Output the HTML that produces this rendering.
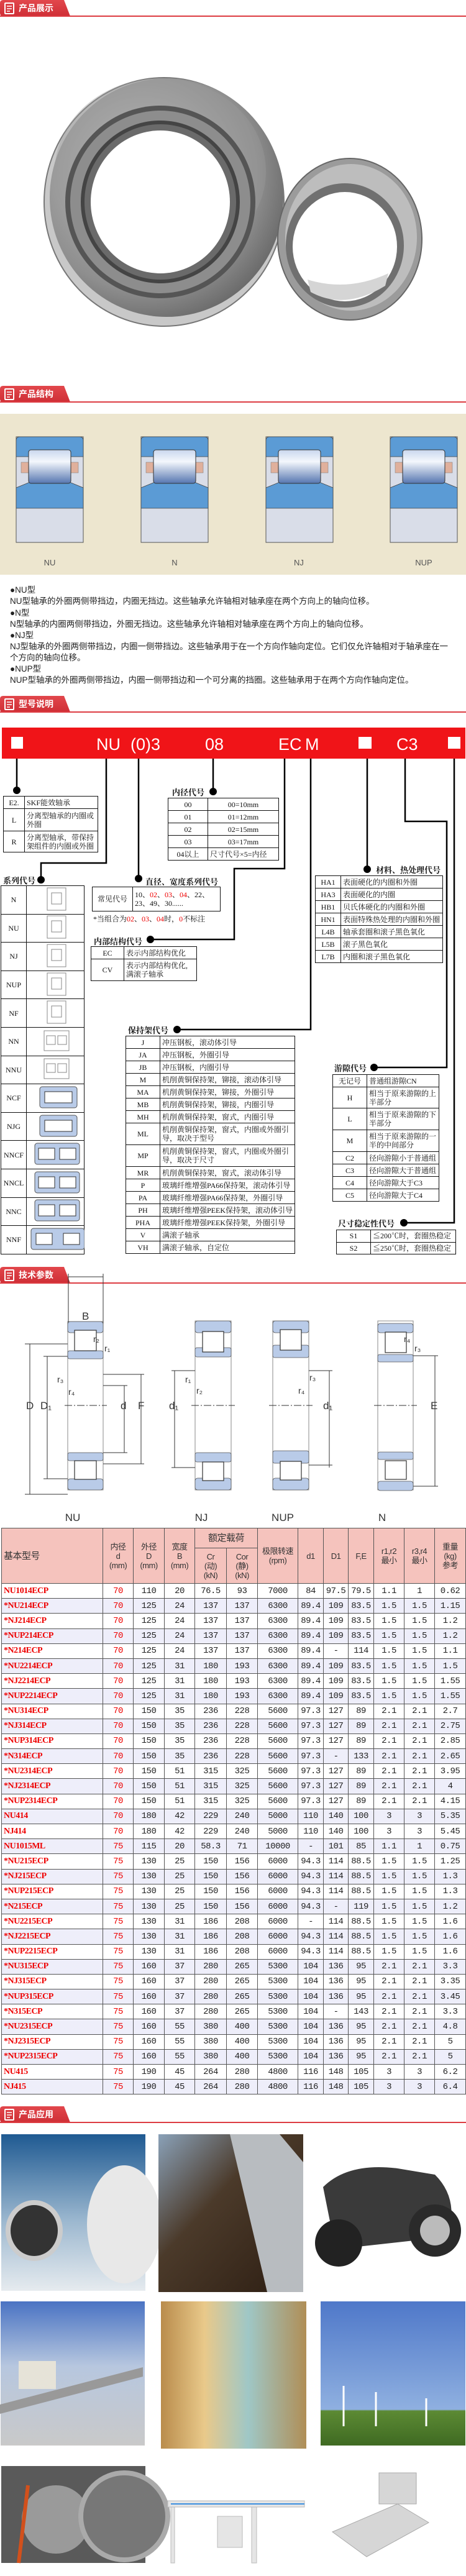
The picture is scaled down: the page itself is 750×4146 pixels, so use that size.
<!DOCTYPE html>
<html><head><meta charset="utf-8">
<style>
*{margin:0;padding:0;box-sizing:border-box}
body{width:750px;height:4146px;position:relative;background:#fff;overflow:hidden;font-family:"Liberation Serif","Noto Serif CJK SC",serif}
.a{position:absolute}
table{border-collapse:collapse;position:absolute;table-layout:fixed}
.ct td{border:1.5px solid #111;font-size:12px;color:#111;padding:0 3px;line-height:14px}
.ct td:first-child{text-align:center}
.lbl{position:absolute;font-weight:bold;font-size:13px;font-family:"Liberation Serif","Noto Serif CJK SC",serif;color:#111}
.p{position:absolute;left:16px;font-size:13.5px;color:#222;font-family:"Liberation Sans","Noto Sans CJK SC",sans-serif;white-space:nowrap}
.mt{left:2px;top:2459px;width:747px}
.mt td{border:1px solid #555;text-align:center;font-family:"Liberation Mono","Noto Sans CJK SC",monospace;font-size:14px;height:24.2px;color:#222;padding:0;letter-spacing:-0.5px}
.mt tr.h td{background:#f5c3bd;font-family:"Liberation Sans","Noto Sans CJK SC",sans-serif;font-size:13px;line-height:15px;color:#333}
.mt td.m{color:#e00;text-align:left;padding-left:3px;font-weight:bold;font-family:"Liberation Serif",serif;font-size:14px}
.mt td.r{color:#e00}
.mt tr.s td{background:#eeeefa}
</style></head><body>

<svg class="a" style="left:0;top:0" width="750" height="4146" xmlns="http://www.w3.org/2000/svg">
<defs>
<linearGradient id="tab" x1="0" y1="0" x2="0" y2="1"><stop offset="0" stop-color="#e2474c"/><stop offset="1" stop-color="#cf2f36"/></linearGradient>
<linearGradient id="rol" x1="0" y1="0" x2="0" y2="1"><stop offset="0" stop-color="#c9d7ee"/><stop offset=".35" stop-color="#f4f7fc"/><stop offset="1" stop-color="#5676b0"/></linearGradient>
<radialGradient id="steel" cx=".4" cy=".4" r=".7"><stop offset="0" stop-color="#c8c8c8"/><stop offset=".7" stop-color="#8e8e8e"/><stop offset="1" stop-color="#5d5d5d"/></radialGradient>
<g id="hdr">
<path d="M0 5 Q0 0 5 0 H103 L113 26 H5 Q0 26 0 21 Z" fill="url(#tab)"/>
<rect x="0" y="25" width="750" height="2" fill="#dd3c42"/>
<rect x="8" y="5" width="14" height="17" rx="1" fill="none" stroke="#fff" stroke-width="2"/>
<path d="M11 10h8M11 14h8M11 18h5" stroke="#fff" stroke-width="1.6"/>
</g>
<g id="sb">
<rect x="0" y="0" width="108" height="170" fill="#d9dde8" stroke="#555" stroke-width="1"/>
<path d="M0 32 V6 Q0 0 6 0 H102 Q108 0 108 6 V32 Z" fill="#5b9bd5" stroke="#444" stroke-width=".8"/>
<rect x="8" y="41" width="12" height="17" fill="#e0b09c" stroke="#777" stroke-width=".5"/>
<rect x="88" y="41" width="12" height="17" fill="#e0b09c" stroke="#777" stroke-width=".5"/>
<path d="M0 115 V82 L22 73 H86 L108 82 V115 Z" fill="#5b9bd5" stroke="#444" stroke-width=".8"/>
<rect x="20" y="21" width="68" height="54" rx="4" fill="url(#rol)" stroke="#333" stroke-width="1"/>
</g>
<g id="dot"><circle r="6" fill="#000"/></g>
</defs>

<!-- headers -->
<use href="#hdr" y="0"/>
<text x="30" y="18" fill="#fff" font-size="14" font-weight="bold" font-family="Noto Sans CJK SC,sans-serif">产品展示</text>
<use href="#hdr" y="621"/>
<text x="30" y="639" fill="#fff" font-size="14" font-weight="bold" font-family="Noto Sans CJK SC,sans-serif">产品结构</text>
<use href="#hdr" y="1120"/>
<text x="30" y="1138" fill="#fff" font-size="14" font-weight="bold" font-family="Noto Sans CJK SC,sans-serif">型号说明</text>
<use href="#hdr" y="2039"/>
<text x="30" y="2057" fill="#fff" font-size="14" font-weight="bold" font-family="Noto Sans CJK SC,sans-serif">技术参数</text>
<use href="#hdr" y="3390"/>
<text x="30" y="3408" fill="#fff" font-size="14" font-weight="bold" font-family="Noto Sans CJK SC,sans-serif">产品应用</text>

<!-- product photo -->
<ellipse cx="264" cy="325" rx="193" ry="200" fill="#c8c8c8" stroke="#777" stroke-width="2"/>
<ellipse cx="268" cy="318" rx="188" ry="192" fill="url(#steel)"/>
<ellipse cx="258" cy="276" rx="170" ry="150" fill="#9a9a9a" opacity=".4"/>
<ellipse cx="258" cy="325" rx="153" ry="155" fill="#555"/>
<ellipse cx="258" cy="325" rx="145" ry="147" fill="#8d8d8d"/>
<ellipse cx="258" cy="325" rx="125" ry="128" fill="#6a6a6a" stroke="#444" stroke-width="6"/>
<ellipse cx="258" cy="325" rx="112" ry="115" fill="#fff"/>
<ellipse cx="563" cy="385" rx="116" ry="130" fill="#9b9b9b" stroke="#666" stroke-width="2"/>
<ellipse cx="565" cy="382" rx="106" ry="118" fill="#bdbdbd"/>
<ellipse cx="555" cy="395" rx="95" ry="100" fill="#707070"/>
<ellipse cx="555" cy="397" rx="84" ry="88" fill="#fff"/>
<path d="M500 470 Q555 500 620 460 L625 440 Q560 470 495 450Z" fill="#d5d5d5"/>

<!-- structure panel -->
<rect x="0" y="666" width="750" height="259" fill="#ede6cf"/>
<use href="#sb" x="26" y="703"/>
<use href="#sb" x="227" y="703"/>
<use href="#sb" x="428" y="703"/>
<use href="#sb" x="628" y="703"/>
<g font-family="Liberation Sans,sans-serif" font-size="13" fill="#555" text-anchor="middle">
<text x="80" y="910">NU</text><text x="281" y="910">N</text><text x="481" y="910">NJ</text><text x="682" y="910">NUP</text>
</g>

<!-- code bar -->
<rect x="3" y="1171" width="746" height="50" fill="#f01418"/>
<rect x="18" y="1186" width="19" height="19" fill="#fff"/>
<rect x="577" y="1186" width="21" height="19" fill="#fff"/>
<rect x="721" y="1186" width="20" height="19" fill="#fff"/>
<g fill="#fff" font-family="Liberation Sans,sans-serif" font-size="27">
<text x="155" y="1207">NU</text><text x="210" y="1207">(0)3</text><text x="330" y="1207">08</text>
<text x="448" y="1207">EC</text><text x="491" y="1207">M</text><text x="638" y="1207">C3</text>
</g>
<g stroke="#000" stroke-width="2.5" fill="none">
<path d="M27 1221V1272"/><path d="M171 1221V1389H66V1416"/><path d="M223 1221V1414"/>
<path d="M343 1221V1274"/><path d="M458 1221V1398H377V1512H242"/><path d="M500 1221V1657H285"/>
<path d="M591 1221V1399"/><path d="M652 1221V1322H719V1718H602"/><path d="M731 1221V1968H650"/>
</g>
<use href="#dot" x="27" y="1272"/><use href="#dot" x="66" y="1416"/><use href="#dot" x="223" y="1414"/>
<use href="#dot" x="343" y="1274"/><use href="#dot" x="242" y="1512"/><use href="#dot" x="285" y="1657"/>
<use href="#dot" x="591" y="1399"/><use href="#dot" x="602" y="1718"/><use href="#dot" x="650" y="1968"/>

<!-- tech drawings -->
<g stroke="#333" stroke-width="1" fill="none">
<rect x="109" y="2127" width="57" height="271" stroke="#888"/>
<rect x="314" y="2126" width="58" height="272" stroke="#888"/>
<rect x="439" y="2126" width="58" height="272" stroke="#888"/>
<rect x="608" y="2126" width="57" height="272" stroke="#888"/>
<path d="M48 2163V2405M76 2183V2380M200 2230V2338M227 2212V2356M281 2206V2362M530 2206V2362M700 2182V2392"/>
<path d="M40 2163H109M70 2183H109M166 2230H205M166 2212H232M276 2206H314M497 2206H535M665 2182H705M40 2405H109M70 2380H109M166 2338H205M166 2356H232M276 2362H314M497 2358H535M665 2392H705"/>
<path d="M104 2262H172M308 2262H378M433 2262H503M602 2262H671" stroke-dasharray="12 3 2 3"/>
<path d="M110 2050V2130M166 2050V2130M110 2055H166"/>
</g>
<g fill="#b9cbe8" stroke="#555" stroke-width=".8">
<rect x="109" y="2127" width="57" height="18" rx="4"/><rect x="109" y="2174" width="57" height="13" rx="3"/>
<rect x="109" y="2338" width="57" height="13" rx="3"/><rect x="109" y="2380" width="57" height="18" rx="4"/>
<rect x="314" y="2126" width="58" height="19" rx="4"/><rect x="314" y="2169" width="58" height="15" rx="3"/>
<rect x="314" y="2338" width="58" height="15" rx="3"/><rect x="314" y="2379" width="58" height="19" rx="4"/>
<rect x="439" y="2126" width="58" height="19" rx="4"/><rect x="439" y="2165" width="58" height="20" rx="3"/>
<rect x="439" y="2335" width="58" height="20" rx="3"/><rect x="439" y="2379" width="58" height="19" rx="4"/>
<rect x="608" y="2130" width="57" height="15" rx="4"/><rect x="608" y="2180" width="57" height="12" rx="3"/>
<rect x="608" y="2337" width="57" height="12" rx="3"/><rect x="608" y="2384" width="57" height="15" rx="4"/>
</g>
<g fill="#fff" stroke="#333" stroke-width="1.2">
<rect x="120" y="2141" width="35" height="33"/><rect x="120" y="2351" width="35" height="30"/>
<rect x="326" y="2143" width="34" height="33"/><rect x="326" y="2353" width="34" height="30"/>
<rect x="451" y="2140" width="34" height="33"/><rect x="451" y="2352" width="34" height="30"/>
<rect x="620" y="2144" width="34" height="33"/><rect x="620" y="2351" width="34" height="30"/>
</g>
<g font-family="Liberation Sans,sans-serif" font-size="17" fill="#333">
<text x="42" y="2268">D</text><text x="65" y="2268">D₁</text><text x="194" y="2268">d</text><text x="222" y="2268">F</text>
<text x="272" y="2268">d₁</text><text x="520" y="2268">d₁</text><text x="693" y="2268">E</text>
<text x="132" y="2124">B</text>
<text font-size="14" x="150" y="2160">r₂</text><text font-size="14" x="168" y="2175">r₁</text>
<text font-size="14" x="92" y="2225">r₃</text><text font-size="14" x="110" y="2245">r₄</text>
<text font-size="14" x="298" y="2225">r₁</text><text font-size="14" x="316" y="2243">r₂</text>
<text font-size="14" x="498" y="2222">r₃</text><text font-size="14" x="480" y="2243">r₄</text>
<text font-size="14" x="650" y="2160">r₄</text><text font-size="14" x="667" y="2175">r₃</text>
</g>
<g font-family="Liberation Sans,sans-serif" font-size="17" fill="#333" text-anchor="middle">
<text x="117" y="2448">NU</text><text x="324" y="2448">NJ</text><text x="455" y="2448">NUP</text><text x="615" y="2448">N</text>
</g>

<!-- application photos -->
<defs>
<linearGradient id="g1" x1="0" y1="0" x2="0" y2="1"><stop offset="0" stop-color="#1f5a92"/><stop offset=".55" stop-color="#9bb7cf"/><stop offset="1" stop-color="#e6ebef"/></linearGradient>
<linearGradient id="g2" x1="0" y1="0" x2="1" y2="1"><stop offset="0" stop-color="#8aa1b8"/><stop offset=".4" stop-color="#4b3a2a"/><stop offset="1" stop-color="#2c1d12"/></linearGradient>
<linearGradient id="g4" x1="0" y1="0" x2="0" y2="1"><stop offset="0" stop-color="#4a73c3"/><stop offset=".45" stop-color="#b7c7df"/><stop offset="1" stop-color="#c9c9c9"/></linearGradient>
<linearGradient id="g5" x1="0" y1="0" x2="1" y2="0"><stop offset="0" stop-color="#b98c4c"/><stop offset=".3" stop-color="#e9c98a"/><stop offset=".6" stop-color="#9fc7c6"/><stop offset="1" stop-color="#b08e56"/></linearGradient>
<linearGradient id="g6" x1="0" y1="0" x2="0" y2="1"><stop offset="0" stop-color="#4f78c9"/><stop offset=".75" stop-color="#8fb0e0"/><stop offset=".76" stop-color="#5c8a34"/><stop offset="1" stop-color="#3f6a22"/></linearGradient>
</defs>
<rect x="2" y="3435" width="232" height="252" fill="url(#g1)"/>
<ellipse cx="55" cy="3590" rx="42" ry="45" fill="#333" stroke="#ccc" stroke-width="8"/>
<ellipse cx="200" cy="3580" rx="60" ry="95" fill="#e8e8e8"/>
<rect x="255" y="3435" width="233" height="254" fill="url(#g2)"/>
<path d="M370 3435 L450 3435 L488 3480 L488 3689 L430 3689 Z" fill="#b8bcc0"/>
<rect x="509" y="3435" width="240" height="200" fill="#fff"/>
<path d="M520 3520 Q560 3480 640 3490 L700 3500 Q740 3540 720 3600 L540 3620 Z" fill="#3a3a3a"/>
<circle cx="545" cy="3610" r="38" fill="#222"/><circle cx="700" cy="3590" r="42" fill="#2a2a2a"/>
<circle cx="700" cy="3590" r="24" fill="#bbb"/>
<rect x="1" y="3704" width="232" height="232" fill="url(#g4)"/>
<rect x="30" y="3800" width="60" height="45" fill="#e6e3d8"/>
<path d="M0 3870 L230 3810 L230 3825 L0 3885Z" fill="#999"/>
<rect x="259" y="3704" width="234" height="237" fill="url(#g5)"/>
<rect x="516" y="3704" width="233" height="232" fill="url(#g6)"/>
<g stroke="#fff" stroke-width="3"><path d="M553 3840V3905M605 3850V3905M686 3860V3905"/></g>
<rect x="2" y="3969" width="232" height="156" fill="#5a5a5a"/>
<circle cx="90" cy="4055" r="55" fill="#9a9a9a"/><circle cx="200" cy="4050" r="70" fill="#777" stroke="#aaa" stroke-width="8"/>
<path d="M45 4000 L30 4125" stroke="#d2501c" stroke-width="6"/>
<g fill="#e5e5e5" stroke="#bbb"><rect x="275" y="4035" width="6" height="90"/><rect x="405" y="4030" width="8" height="95"/><rect x="270" y="4025" width="220" height="10"/><rect x="350" y="4050" width="40" height="50"/></g>
<path d="M275 4030 H490" stroke="#3b8fe0" stroke-width="2"/>
<g fill="#d6d6d6" stroke="#aaa"><rect x="610" y="3980" width="60" height="50"/><path d="M535 4075 L640 4030 L690 4060 L590 4115Z"/></g>
</svg>

<!-- structure text -->
<div class="p" style="top:938px">●NU型</div>
<div class="p" style="top:956px">NU型轴承的外圈两侧带挡边，内圈无挡边。这些轴承允许轴相对轴承座在两个方向上的轴向位移。</div>
<div class="p" style="top:975px">●N型</div>
<div class="p" style="top:993px">N型轴承的内圈两侧带挡边，外圈无挡边。这些轴承允许轴相对轴承座在两个方向上的轴向位移。</div>
<div class="p" style="top:1011px">●NJ型</div>
<div class="p" style="top:1029px">NJ型轴承的外圈两侧带挡边，内圈一侧带挡边。这些轴承用于在一个方向作轴向定位。它们仅允许轴相对于轴承座在一</div>
<div class="p" style="top:1047px">个方向的轴向位移。</div>
<div class="p" style="top:1065px">●NUP型</div>
<div class="p" style="top:1083px">NUP型轴承的外圈两侧带挡边，内圈一侧带挡边和一个可分离的挡圈。这些轴承用于在两个方向作轴向定位。</div>

<!-- labels -->
<div class="lbl" style="left:5px;top:1407px">系列代号</div>
<div class="lbl" style="left:234px;top:1409px">直径、宽度系列代号</div>
<div class="lbl" style="left:277px;top:1265px">内径代号</div>
<div class="lbl" style="left:151px;top:1505px">内部结构代号</div>
<div class="lbl" style="left:206px;top:1648px">保持架代号</div>
<div class="lbl" style="left:605px;top:1390px">材料、热处理代号</div>
<div class="lbl" style="left:538px;top:1709px">游隙代号</div>
<div class="lbl" style="left:544px;top:1959px">尺寸稳定性代号</div>

<table class="ct" style="left:5px;top:1281px;width:153px">
<col style="width:34px"><col>
<tr style="height:20px"><td>E2.</td><td>SKF能效轴承</td></tr>
<tr style="height:36px"><td>L</td><td>分离型轴承的内圈或外圈</td></tr>
<tr style="height:34px"><td>R</td><td>分离型轴承，带保持架组件的内圈或外圈</td></tr>
</table>

<table class="ct" style="left:270px;top:1284px;width:179px">
<col style="width:64px"><col>
<tr style="height:20px"><td>00</td><td style="text-align:center">00=10mm</td></tr>
<tr style="height:20px"><td>01</td><td style="text-align:center">01=12mm</td></tr>
<tr style="height:20px"><td>02</td><td style="text-align:center">02=15mm</td></tr>
<tr style="height:20px"><td>03</td><td style="text-align:center">03=17mm</td></tr>
<tr style="height:20px"><td>04以上</td><td>尺寸代号×5=内径</td></tr>
</table>

<table class="ct" style="left:1px;top:1425px;width:135px">
<col style="width:41px"><col>
<tr style="height:45.6px"><td>N</td><td><svg width="90" height="40"><rect x="30" y="2" width="30" height="36" fill="none" stroke="#888"/><rect x="37" y="10" width="16" height="18" fill="none" stroke="#888"/></svg></td></tr>
<tr style="height:45.6px"><td>NU</td><td><svg width="90" height="40"><rect x="30" y="2" width="30" height="36" fill="none" stroke="#888"/><rect x="37" y="10" width="16" height="18" fill="none" stroke="#888"/></svg></td></tr>
<tr style="height:45.6px"><td>NJ</td><td><svg width="90" height="40"><rect x="30" y="2" width="30" height="36" fill="none" stroke="#888"/><rect x="37" y="10" width="16" height="18" fill="none" stroke="#888"/></svg></td></tr>
<tr style="height:45.6px"><td>NUP</td><td><svg width="90" height="40"><rect x="30" y="2" width="30" height="36" fill="none" stroke="#888"/><rect x="37" y="10" width="16" height="18" fill="none" stroke="#888"/></svg></td></tr>
<tr style="height:45.6px"><td>NF</td><td><svg width="90" height="40"><rect x="30" y="2" width="30" height="36" fill="none" stroke="#888"/><rect x="37" y="10" width="16" height="18" fill="none" stroke="#888"/></svg></td></tr>
<tr style="height:45.6px"><td>NN</td><td><svg width="90" height="40"><rect x="25" y="4" width="40" height="32" fill="none" stroke="#888"/><rect x="29" y="12" width="14" height="14" fill="none" stroke="#888"/><rect x="47" y="12" width="14" height="14" fill="none" stroke="#888"/></svg></td></tr>
<tr style="height:45.6px"><td>NNU</td><td><svg width="90" height="40"><rect x="25" y="4" width="40" height="32" fill="none" stroke="#888"/><rect x="29" y="12" width="14" height="14" fill="none" stroke="#888"/><rect x="47" y="12" width="14" height="14" fill="none" stroke="#888"/></svg></td></tr>
<tr style="height:45.6px"><td>NCF</td><td><svg width="90" height="40"><rect x="18" y="3" width="60" height="34" rx="4" fill="#b9cbe8" stroke="#555"/><rect x="26" y="11" width="44" height="18" fill="#fff" stroke="#333"/></svg></td></tr>
<tr style="height:45.6px"><td>NJG</td><td><svg width="90" height="40"><rect x="18" y="3" width="60" height="34" rx="4" fill="#b9cbe8" stroke="#555"/><rect x="26" y="11" width="44" height="18" fill="#fff" stroke="#333"/></svg></td></tr>
<tr style="height:45.6px"><td>NNCF</td><td><svg width="90" height="40"><rect x="10" y="3" width="72" height="34" rx="4" fill="#b9cbe8" stroke="#555"/><rect x="16" y="11" width="26" height="18" fill="#fff" stroke="#333"/><rect x="50" y="11" width="26" height="18" fill="#fff" stroke="#333"/></svg></td></tr>
<tr style="height:45.6px"><td>NNCL</td><td><svg width="90" height="40"><rect x="10" y="3" width="72" height="34" rx="4" fill="#b9cbe8" stroke="#555"/><rect x="16" y="11" width="26" height="18" fill="#fff" stroke="#333"/><rect x="50" y="11" width="26" height="18" fill="#fff" stroke="#333"/></svg></td></tr>
<tr style="height:45.6px"><td>NNC</td><td><svg width="90" height="40"><rect x="10" y="3" width="72" height="34" rx="4" fill="#b9cbe8" stroke="#555"/><rect x="16" y="11" width="26" height="18" fill="#fff" stroke="#333"/><rect x="50" y="11" width="26" height="18" fill="#fff" stroke="#333"/></svg></td></tr>
<tr style="height:45.6px"><td>NNF</td><td><svg width="90" height="40"><rect x="4" y="3" width="86" height="34" rx="4" fill="#b9cbe8" stroke="#555"/><rect x="12" y="11" width="26" height="18" fill="#fff" stroke="#333"/><rect x="56" y="11" width="26" height="18" fill="#fff" stroke="#333"/></svg></td></tr>
</table>

<table class="ct" style="left:148px;top:1427px;width:207px">
<col style="width:65px"><col>
<tr style="height:39px"><td>常见代号</td><td>10、<span style="color:#e00">02</span>、<span style="color:#e00">03</span>、<span style="color:#e00">04</span>、22、<br>23、49、30......</td></tr>
</table>
<div class="a" style="left:150px;top:1470px;font-size:12px;color:#111">*当组合为<span style="color:#e00">02</span>、<span style="color:#e00">03</span>、<span style="color:#e00">04</span>时，<span style="color:#e00">0</span>不标注</div>

<table class="ct" style="left:146px;top:1523px;width:171px">
<col style="width:53px"><col>
<tr style="height:20px"><td>EC</td><td>表示内部结构优化</td></tr>
<tr style="height:35px"><td>CV</td><td>表示内部结构优化,<br>满滚子轴承</td></tr>
</table>

<table class="ct" style="left:507px;top:1409px;width:206px">
<col style="width:41px"><col>
<tr style="height:20px"><td>HA1</td><td>表面硬化的内圈和外圈</td></tr>
<tr style="height:20px"><td>HA3</td><td>表面硬化的内圈</td></tr>
<tr style="height:20px"><td>HB1</td><td>贝氏体硬化的内圈和外圈</td></tr>
<tr style="height:20px"><td>HN1</td><td>表面特殊热处理的内圈和外圈</td></tr>
<tr style="height:20px"><td>L4B</td><td>轴承套圈和滚子黑色氧化</td></tr>
<tr style="height:20px"><td>L5B</td><td>滚子黑色氧化</td></tr>
<tr style="height:20px"><td>L7B</td><td>内圈和滚子黑色氧化</td></tr>
</table>

<table class="ct" style="left:202px;top:1667px;width:273px">
<col style="width:55px"><col>
<tr style="height:20px"><td>J</td><td>冲压钢板，滚动体引导</td></tr>
<tr style="height:20px"><td>JA</td><td>冲压钢板，外圈引导</td></tr>
<tr style="height:20px"><td>JB</td><td>冲压钢板，内圈引导</td></tr>
<tr style="height:20px"><td>M</td><td>机削黄铜保持架，铆接，滚动体引导</td></tr>
<tr style="height:20px"><td>MA</td><td>机削黄铜保持架，铆接，外圈引导</td></tr>
<tr style="height:20px"><td>MB</td><td>机削黄铜保持架，铆接，内圈引导</td></tr>
<tr style="height:20px"><td>MH</td><td>机削黄铜保持架，窗式，内圈引导</td></tr>
<tr style="height:35px"><td>ML</td><td>机削黄铜保持架，窗式，内圈或外圈引导，取决于型号</td></tr>
<tr style="height:35px"><td>MP</td><td>机削黄铜保持架，窗式，内圈或外圈引导，取决于尺寸</td></tr>
<tr style="height:20px"><td>MR</td><td>机削黄铜保持架，窗式，滚动体引导</td></tr>
<tr style="height:20px"><td>P</td><td>玻璃纤维增强PA66保持架，滚动体引导</td></tr>
<tr style="height:20px"><td>PA</td><td>玻璃纤维增强PA66保持架，外圈引导</td></tr>
<tr style="height:20px"><td>PH</td><td>玻璃纤维增强PEEK保持架，滚动体引导</td></tr>
<tr style="height:20px"><td>PHA</td><td>玻璃纤维增强PEEK保持架，外圈引导</td></tr>
<tr style="height:20px"><td>V</td><td>满滚子轴承</td></tr>
<tr style="height:20px"><td>VH</td><td>满滚子轴承，自定位</td></tr>
</table>

<table class="ct" style="left:535px;top:1729px;width:172px">
<col style="width:55px"><col>
<tr style="height:20px"><td>无记号</td><td>普通组游隙CN</td></tr>
<tr style="height:34px"><td>H</td><td>相当于原来游隙的上半部分</td></tr>
<tr style="height:35px"><td>L</td><td>相当于原来游隙的下半部分</td></tr>
<tr style="height:35px"><td>M</td><td>相当于原来游隙的一半的中间部分</td></tr>
<tr style="height:20px"><td>C2</td><td>径向游隙小于普通组</td></tr>
<tr style="height:20px"><td>C3</td><td>径向游隙大于普通组</td></tr>
<tr style="height:20px"><td>C4</td><td>径向游隙大于C3</td></tr>
<tr style="height:20px"><td>C5</td><td>径向游隙大于C4</td></tr>
</table>

<table class="ct" style="left:541px;top:1979px;width:193px">
<col style="width:55px"><col>
<tr style="height:19.5px"><td>S1</td><td>≦200℃时，套圈热稳定</td></tr>
<tr style="height:19.5px"><td>S2</td><td>≦250℃时，套圈热稳定</td></tr>
</table>

<!-- main table -->
<table class="mt">
<col style="width:163px"><col style="width:49px"><col style="width:50px"><col style="width:49px"><col style="width:51px"><col style="width:50px"><col style="width:65px"><col style="width:41px"><col style="width:40px"><col style="width:41px"><col style="width:49px"><col style="width:49px"><col style="width:50px">
<tr class="h" style="height:32px"><td rowspan="2" style="text-align:left;padding-left:3px;font-size:15px">基本型号</td><td rowspan="2">内径<br>d<br>(mm)</td><td rowspan="2">外径<br>D<br>(mm)</td><td rowspan="2">宽度<br>B<br>(mm)</td><td colspan="2" style="font-size:15px">额定载荷</td><td rowspan="2">极限转速<br>(rpm)</td><td rowspan="2">d1</td><td rowspan="2">D1</td><td rowspan="2">F,E</td><td rowspan="2">r1,r2<br>最小</td><td rowspan="2">r3,r4<br>最小</td><td rowspan="2">重量<br>(kg)<br>参考</td></tr>
<tr class="h" style="height:57px"><td>Cr<br>(动)<br>(kN)</td><td>Cor<br>(静)<br>(kN)</td></tr>
<tr><td class="m">NU1014ECP</td><td class="r">70</td><td>110</td><td>20</td><td>76.5</td><td>93</td><td>7000</td><td>84</td><td>97.5</td><td>79.5</td><td>1.1</td><td>1</td><td>0.62</td></tr>
<tr class="s"><td class="m">*NU214ECP</td><td class="r">70</td><td>125</td><td>24</td><td>137</td><td>137</td><td>6300</td><td>89.4</td><td>109</td><td>83.5</td><td>1.5</td><td>1.5</td><td>1.15</td></tr>
<tr><td class="m">*NJ214ECP</td><td class="r">70</td><td>125</td><td>24</td><td>137</td><td>137</td><td>6300</td><td>89.4</td><td>109</td><td>83.5</td><td>1.5</td><td>1.5</td><td>1.2</td></tr>
<tr class="s"><td class="m">*NUP214ECP</td><td class="r">70</td><td>125</td><td>24</td><td>137</td><td>137</td><td>6300</td><td>89.4</td><td>109</td><td>83.5</td><td>1.5</td><td>1.5</td><td>1.2</td></tr>
<tr><td class="m">*N214ECP</td><td class="r">70</td><td>125</td><td>24</td><td>137</td><td>137</td><td>6300</td><td>89.4</td><td>-</td><td>114</td><td>1.5</td><td>1.5</td><td>1.1</td></tr>
<tr class="s"><td class="m">*NU2214ECP</td><td class="r">70</td><td>125</td><td>31</td><td>180</td><td>193</td><td>6300</td><td>89.4</td><td>109</td><td>83.5</td><td>1.5</td><td>1.5</td><td>1.5</td></tr>
<tr><td class="m">*NJ2214ECP</td><td class="r">70</td><td>125</td><td>31</td><td>180</td><td>193</td><td>6300</td><td>89.4</td><td>109</td><td>83.5</td><td>1.5</td><td>1.5</td><td>1.55</td></tr>
<tr class="s"><td class="m">*NUP2214ECP</td><td class="r">70</td><td>125</td><td>31</td><td>180</td><td>193</td><td>6300</td><td>89.4</td><td>109</td><td>83.5</td><td>1.5</td><td>1.5</td><td>1.55</td></tr>
<tr><td class="m">*NU314ECP</td><td class="r">70</td><td>150</td><td>35</td><td>236</td><td>228</td><td>5600</td><td>97.3</td><td>127</td><td>89</td><td>2.1</td><td>2.1</td><td>2.7</td></tr>
<tr class="s"><td class="m">*NJ314ECP</td><td class="r">70</td><td>150</td><td>35</td><td>236</td><td>228</td><td>5600</td><td>97.3</td><td>127</td><td>89</td><td>2.1</td><td>2.1</td><td>2.75</td></tr>
<tr><td class="m">*NUP314ECP</td><td class="r">70</td><td>150</td><td>35</td><td>236</td><td>228</td><td>5600</td><td>97.3</td><td>127</td><td>89</td><td>2.1</td><td>2.1</td><td>2.85</td></tr>
<tr class="s"><td class="m">*N314ECP</td><td class="r">70</td><td>150</td><td>35</td><td>236</td><td>228</td><td>5600</td><td>97.3</td><td>-</td><td>133</td><td>2.1</td><td>2.1</td><td>2.65</td></tr>
<tr><td class="m">*NU2314ECP</td><td class="r">70</td><td>150</td><td>51</td><td>315</td><td>325</td><td>5600</td><td>97.3</td><td>127</td><td>89</td><td>2.1</td><td>2.1</td><td>3.95</td></tr>
<tr class="s"><td class="m">*NJ2314ECP</td><td class="r">70</td><td>150</td><td>51</td><td>315</td><td>325</td><td>5600</td><td>97.3</td><td>127</td><td>89</td><td>2.1</td><td>2.1</td><td>4</td></tr>
<tr><td class="m">*NUP2314ECP</td><td class="r">70</td><td>150</td><td>51</td><td>315</td><td>325</td><td>5600</td><td>97.3</td><td>127</td><td>89</td><td>2.1</td><td>2.1</td><td>4.15</td></tr>
<tr class="s"><td class="m">NU414</td><td class="r">70</td><td>180</td><td>42</td><td>229</td><td>240</td><td>5000</td><td>110</td><td>140</td><td>100</td><td>3</td><td>3</td><td>5.35</td></tr>
<tr><td class="m">NJ414</td><td class="r">70</td><td>180</td><td>42</td><td>229</td><td>240</td><td>5000</td><td>110</td><td>140</td><td>100</td><td>3</td><td>3</td><td>5.45</td></tr>
<tr class="s"><td class="m">NU1015ML</td><td class="r">75</td><td>115</td><td>20</td><td>58.3</td><td>71</td><td>10000</td><td>-</td><td>101</td><td>85</td><td>1.1</td><td>1</td><td>0.75</td></tr>
<tr><td class="m">*NU215ECP</td><td class="r">75</td><td>130</td><td>25</td><td>150</td><td>156</td><td>6000</td><td>94.3</td><td>114</td><td>88.5</td><td>1.5</td><td>1.5</td><td>1.25</td></tr>
<tr class="s"><td class="m">*NJ215ECP</td><td class="r">75</td><td>130</td><td>25</td><td>150</td><td>156</td><td>6000</td><td>94.3</td><td>114</td><td>88.5</td><td>1.5</td><td>1.5</td><td>1.3</td></tr>
<tr><td class="m">*NUP215ECP</td><td class="r">75</td><td>130</td><td>25</td><td>150</td><td>156</td><td>6000</td><td>94.3</td><td>114</td><td>88.5</td><td>1.5</td><td>1.5</td><td>1.3</td></tr>
<tr class="s"><td class="m">*N215ECP</td><td class="r">75</td><td>130</td><td>25</td><td>150</td><td>156</td><td>6000</td><td>94.3</td><td>-</td><td>119</td><td>1.5</td><td>1.5</td><td>1.2</td></tr>
<tr><td class="m">*NU2215ECP</td><td class="r">75</td><td>130</td><td>31</td><td>186</td><td>208</td><td>6000</td><td>-</td><td>114</td><td>88.5</td><td>1.5</td><td>1.5</td><td>1.6</td></tr>
<tr class="s"><td class="m">*NJ2215ECP</td><td class="r">75</td><td>130</td><td>31</td><td>186</td><td>208</td><td>6000</td><td>94.3</td><td>114</td><td>88.5</td><td>1.5</td><td>1.5</td><td>1.6</td></tr>
<tr><td class="m">*NUP2215ECP</td><td class="r">75</td><td>130</td><td>31</td><td>186</td><td>208</td><td>6000</td><td>94.3</td><td>114</td><td>88.5</td><td>1.5</td><td>1.5</td><td>1.6</td></tr>
<tr class="s"><td class="m">*NU315ECP</td><td class="r">75</td><td>160</td><td>37</td><td>280</td><td>265</td><td>5300</td><td>104</td><td>136</td><td>95</td><td>2.1</td><td>2.1</td><td>3.3</td></tr>
<tr><td class="m">*NJ315ECP</td><td class="r">75</td><td>160</td><td>37</td><td>280</td><td>265</td><td>5300</td><td>104</td><td>136</td><td>95</td><td>2.1</td><td>2.1</td><td>3.35</td></tr>
<tr class="s"><td class="m">*NUP315ECP</td><td class="r">75</td><td>160</td><td>37</td><td>280</td><td>265</td><td>5300</td><td>104</td><td>136</td><td>95</td><td>2.1</td><td>2.1</td><td>3.45</td></tr>
<tr><td class="m">*N315ECP</td><td class="r">75</td><td>160</td><td>37</td><td>280</td><td>265</td><td>5300</td><td>104</td><td>-</td><td>143</td><td>2.1</td><td>2.1</td><td>3.3</td></tr>
<tr class="s"><td class="m">*NU2315ECP</td><td class="r">75</td><td>160</td><td>55</td><td>380</td><td>400</td><td>5300</td><td>104</td><td>136</td><td>95</td><td>2.1</td><td>2.1</td><td>4.8</td></tr>
<tr><td class="m">*NJ2315ECP</td><td class="r">75</td><td>160</td><td>55</td><td>380</td><td>400</td><td>5300</td><td>104</td><td>136</td><td>95</td><td>2.1</td><td>2.1</td><td>5</td></tr>
<tr class="s"><td class="m">*NUP2315ECP</td><td class="r">75</td><td>160</td><td>55</td><td>380</td><td>400</td><td>5300</td><td>104</td><td>136</td><td>95</td><td>2.1</td><td>2.1</td><td>5</td></tr>
<tr><td class="m">NU415</td><td class="r">75</td><td>190</td><td>45</td><td>264</td><td>280</td><td>4800</td><td>116</td><td>148</td><td>105</td><td>3</td><td>3</td><td>6.2</td></tr>
<tr class="s"><td class="m">NJ415</td><td class="r">75</td><td>190</td><td>45</td><td>264</td><td>280</td><td>4800</td><td>116</td><td>148</td><td>105</td><td>3</td><td>3</td><td>6.4</td></tr>
</table>
</body></html>
